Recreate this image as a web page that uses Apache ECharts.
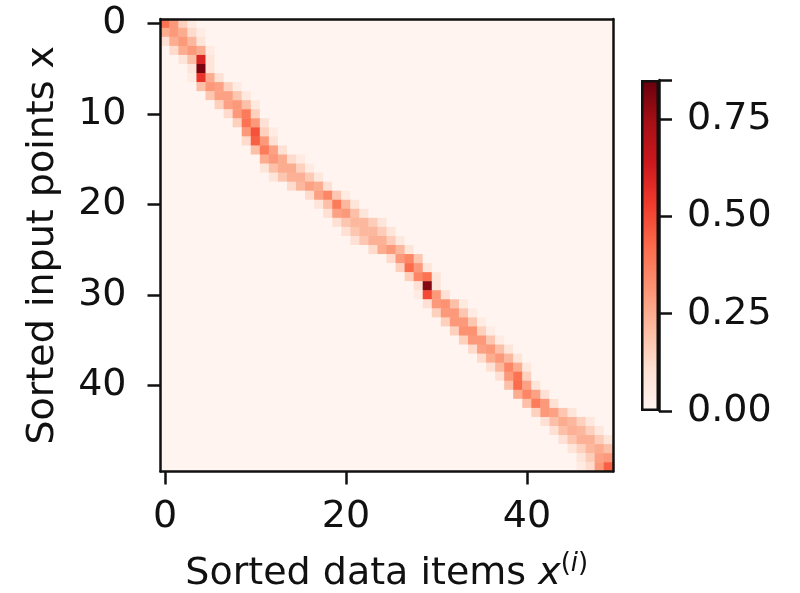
<!DOCTYPE html>
<html>
<head>
<meta charset="utf-8">
<script src="https://cdn.jsdelivr.net/npm/echarts@6/dist/echarts.min.js"></script>
<style>
  html, body { margin: 0; padding: 0; background: #fff; }
  #chart { width: 800px; height: 593px; }
</style>
</head>
<body>
<div id="chart"></div>
<script>
// 50 sorted input points (rows) x 50 sorted data items (cols)
const size = 50
const xTickLabels = ['0', '20', '40']
const yTickLabels = ['0', '10', '20', '30', '40']
const colorbarTicks = [0, 0.25, 0.5, 0.75]
const vmax = 0.85
// first column of the visible band in each row
const rowStart = [
  0, 0, 0, 1, 2, 3, 3, 4, 5, 6,
  7, 8, 9, 9, 10, 11, 11, 12, 14, 16,
  17, 18, 19, 20, 21, 23, 25, 26, 27, 28,
  28, 29, 30, 31, 32, 33, 34, 35, 36, 37,
  38, 39, 40, 41, 42, 43, 44, 45, 46, 46
]
// weights read along the band, starting at rowStart (everything else ~0)
const rowBand = [
  [0.40, 0.30, 0.15, 0.05],
  [0.25, 0.30, 0.25, 0.12, 0.04],
  [0.10, 0.25, 0.30, 0.22, 0.08],
  [0.12, 0.25, 0.30, 0.25, 0.05],
  [0.08, 0.20, 0.60, 0.08],
  [0.08, 0.82, 0.08],
  [0.05, 0.55, 0.25, 0.10],
  [0.20, 0.30, 0.28, 0.15, 0.05],
  [0.18, 0.28, 0.28, 0.18, 0.06],
  [0.15, 0.28, 0.30, 0.20, 0.06],
  [0.12, 0.30, 0.38, 0.15],
  [0.15, 0.40, 0.30, 0.10],
  [0.30, 0.48, 0.15, 0.05],
  [0.12, 0.45, 0.30, 0.10],
  [0.20, 0.38, 0.28, 0.10],
  [0.25, 0.30, 0.25, 0.12, 0.05],
  [0.08, 0.20, 0.25, 0.25, 0.15, 0.05],
  [0.08, 0.18, 0.24, 0.24, 0.17, 0.07],
  [0.12, 0.22, 0.28, 0.25, 0.10],
  [0.12, 0.28, 0.35, 0.18, 0.05],
  [0.08, 0.20, 0.38, 0.22, 0.08],
  [0.10, 0.28, 0.30, 0.20, 0.08],
  [0.10, 0.18, 0.22, 0.22, 0.16, 0.08],
  [0.10, 0.18, 0.22, 0.22, 0.16, 0.08],
  [0.10, 0.18, 0.24, 0.24, 0.16, 0.06],
  [0.12, 0.25, 0.30, 0.22, 0.08],
  [0.12, 0.30, 0.35, 0.18],
  [0.15, 0.42, 0.30, 0.08],
  [0.15, 0.35, 0.40, 0.08],
  [0.10, 0.80, 0.08],
  [0.05, 0.50, 0.30, 0.10],
  [0.10, 0.30, 0.32, 0.20, 0.06],
  [0.15, 0.30, 0.30, 0.18, 0.05],
  [0.15, 0.30, 0.30, 0.18, 0.05],
  [0.15, 0.32, 0.32, 0.15, 0.04],
  [0.15, 0.30, 0.30, 0.18, 0.05],
  [0.12, 0.28, 0.30, 0.20, 0.08],
  [0.12, 0.25, 0.30, 0.22, 0.08],
  [0.10, 0.22, 0.35, 0.25, 0.06],
  [0.10, 0.30, 0.40, 0.15],
  [0.20, 0.42, 0.28, 0.08],
  [0.25, 0.35, 0.28, 0.10],
  [0.20, 0.38, 0.30, 0.10],
  [0.15, 0.30, 0.28, 0.18, 0.08],
  [0.10, 0.20, 0.25, 0.22, 0.15, 0.07],
  [0.10, 0.20, 0.24, 0.22, 0.15, 0.07],
  [0.10, 0.18, 0.24, 0.24, 0.16, 0.08],
  [0.08, 0.15, 0.22, 0.25, 0.20, 0.10],
  [0.08, 0.16, 0.28, 0.30, 0.18],
  [0.05, 0.12, 0.30, 0.45]
]

// matplotlib 'Reds'
const reds = ['#fff5f0', '#fee0d2', '#fcbba1', '#fc9272', '#fb6a4a', '#ef3b2c', '#cb181d', '#a50f15', '#67000d']

const cats = []
for (let i = 0; i < size; i++) cats.push(String(i))

const heatData = []
for (let r = 0; r < size; r++) {
  for (let c = 0; c < size; c++) {
    let k = c - rowStart[r]
    let v = (k >= 0 && k < rowBand[r].length) ? rowBand[r][k] : 0.003
    heatData.push([c, r, v])
  }
}

const font = 'DejaVu Sans'
const ink = '#111'
const lineW = 2.5

const chart = echarts.init(document.getElementById('chart'), null, { renderer: 'canvas' })

chart.setOption({
  animation: false,
  backgroundColor: '#fff',
  textStyle: { fontFamily: font },
  grid: [
    { left: 160.5, top: 19, width: 452.5, height: 452.5, outerBoundsMode: 'none', containLabel: false },
    { left: 641, top: 80, width: 18, height: 331, outerBoundsMode: 'none', containLabel: false }
  ],
  visualMap: {
    show: false,
    seriesIndex: 0,
    dimension: 2,
    min: 0,
    max: vmax,
    inRange: { color: reds }
  },
  xAxis: [
    {
      type: 'category', data: cats, gridIndex: 0, z: 10,
      axisLine: { show: true, lineStyle: { color: ink, width: lineW } },
      axisTick: {
        show: true, alignWithLabel: true, length: 13,
        interval: (i) => i % 20 === 0,
        lineStyle: { color: ink, width: lineW }
      },
      axisLabel: {
        interval: (i) => i % 20 === 0,
        formatter: (v) => xTickLabels[xTickLabels.indexOf(v)] || v,
        fontSize: 38, color: ink, fontFamily: font, margin: 27
      },
      splitLine: { show: false },
      name: '{a|Sorted data items }{b|x}{c|(}{d|i}{c|)}',
      nameLocation: 'middle',
      nameGap: 80,
      nameTextStyle: {
        fontSize: 38, color: ink, fontFamily: font,
        rich: {
          a: { fontSize: 38, fontFamily: font, color: ink, lineHeight: 46 },
          b: { fontSize: 38, fontFamily: font, color: ink, fontStyle: 'italic', lineHeight: 46 },
          c: { fontSize: 26, fontFamily: font, color: ink, verticalAlign: 'top', lineHeight: 46, padding: [0, 0, 22, 0] },
          d: { fontSize: 26, fontFamily: font, color: ink, fontStyle: 'italic', verticalAlign: 'top', lineHeight: 46, padding: [0, 0, 22, 0] }
        }
      }
    },
    {
      type: 'category', data: cats, gridIndex: 0, position: 'top', z: 10,
      axisLine: { show: true, lineStyle: { color: ink, width: lineW } },
      axisTick: { show: false }, axisLabel: { show: false }, splitLine: { show: false }
    },
    {
      type: 'category', data: ['c'], gridIndex: 1,
      axisLine: { show: false }, axisTick: { show: false }, axisLabel: { show: false }
    }
  ],
  yAxis: [
    {
      type: 'category', data: cats, gridIndex: 0, inverse: true, z: 10,
      axisLine: { show: true, lineStyle: { color: ink, width: lineW } },
      axisTick: {
        show: true, alignWithLabel: true, length: 13,
        interval: (i) => i % 10 === 0,
        lineStyle: { color: ink, width: lineW }
      },
      axisLabel: {
        interval: (i) => i % 10 === 0,
        formatter: (v) => yTickLabels[yTickLabels.indexOf(v)] || v,
        fontSize: 38, color: ink, fontFamily: font, margin: 34
      },
      splitLine: { show: false },
      name: 'Sorted input points x',
      nameLocation: 'middle',
      nameGap: 98,
      nameTextStyle: { fontSize: 38, color: ink, fontFamily: font }
    },
    {
      type: 'category', data: cats, gridIndex: 0, position: 'right', inverse: true, z: 10,
      axisLine: { show: true, lineStyle: { color: ink, width: lineW } },
      axisTick: { show: false }, axisLabel: { show: false }, splitLine: { show: false }
    },
    {
      type: 'value', gridIndex: 1, position: 'right', min: 0, max: vmax, interval: 0.25, z: 10,
      axisLine: { show: true, lineStyle: { color: ink, width: lineW } },
      axisTick: { show: true, length: 13, lineStyle: { color: ink, width: lineW } },
      axisLabel: {
        fontSize: 38, color: ink, fontFamily: font, margin: 28,
        formatter: (v) => colorbarTicks.indexOf(v) >= 0 ? v.toFixed(2) : ''
      },
      splitLine: { show: false }
    }
  ],
  series: [
    {
      type: 'heatmap',
      xAxisIndex: 0,
      yAxisIndex: 0,
      data: heatData,
      itemStyle: { borderWidth: 0 },
      emphasis: { disabled: true },
      progressive: 0
    },
    {
      type: 'bar',
      xAxisIndex: 2,
      yAxisIndex: 2,
      data: [vmax],
      barWidth: '100%',
      silent: true,
      itemStyle: {
        borderColor: ink,
        borderWidth: lineW,
        color: new echarts.graphic.LinearGradient(0, 1, 0, 0,
          reds.map((c, i) => ({ offset: i / (reds.length - 1), color: c })))
      }
    }
  ]
})
</script>
</body>
</html>
